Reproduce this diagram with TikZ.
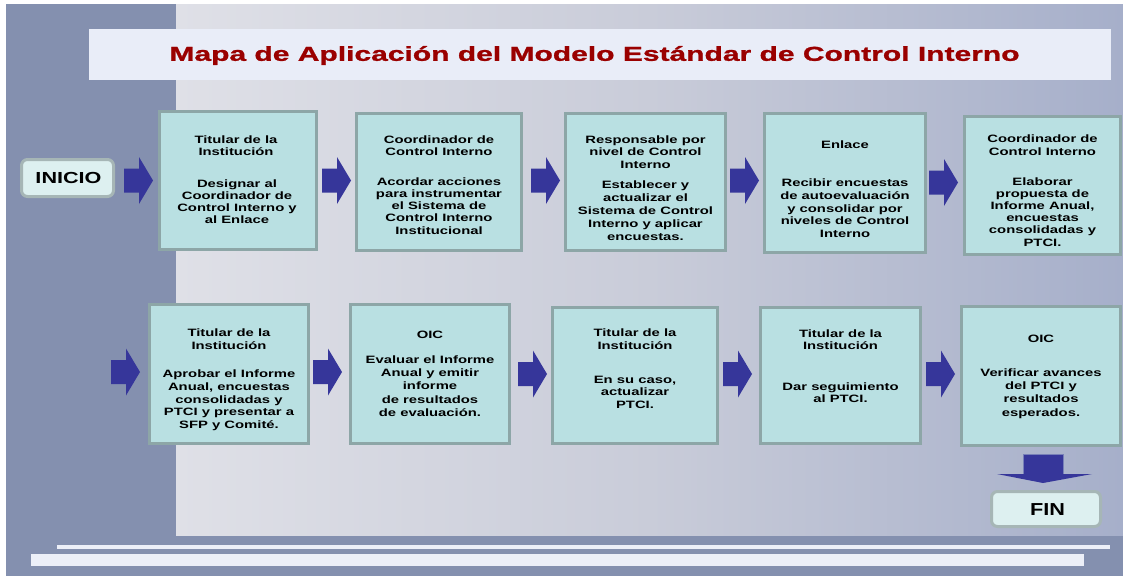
\documentclass[tikz,border=0pt]{standalone}
\usepackage{fontspec}
\newfontfamily\boxfont{Liberation Sans}[FakeStretch=1.39]
\newfontfamily\titlefont{Liberation Sans}[FakeStretch=1.49,FakeBold=1.2]
\newfontfamily\inifont{Liberation Sans}[FakeStretch=1.35]
\newfontfamily\finfont{Liberation Sans}[FakeStretch=1.25]
\definecolor{band}{HTML}{8490AF}
\definecolor{panelL}{HTML}{DFE0E7}
\definecolor{panelM}{HTML}{C9CCD9}
\definecolor{panelR}{HTML}{A6AFCA}
\definecolor{titlebar}{HTML}{E9EDF8}
\definecolor{titlered}{HTML}{9A0000}
\definecolor{boxfill}{HTML}{B9E0E2}
\definecolor{boxline}{HTML}{8DA6A7}
\definecolor{arrowc}{HTML}{36369A}
\definecolor{arrowedge}{HTML}{7880B8}
\definecolor{endfill}{HTML}{DDF0F0}
\definecolor{endline}{HTML}{A6B6B6}
\definecolor{whitebar}{HTML}{ECEFF8}
\tikzset{
  stepbox/.style={draw=boxline, fill=boxfill, line width=2.25pt, inner sep=0pt},
  endbox/.style={draw=endline, fill=endfill, line width=2.25pt, inner sep=0pt, rounded corners=4.5pt},
  txt/.style={align=center, inner sep=0pt, anchor=base, text=black},
  f/.style={font=\boxfont\bfseries\fontsize{8}{#1}\selectfont},
  rarrow/.pic={\fill[arrowc] (0,-12)--(15,-12)--(15,-23.5)--(29,0)--(15,23.5)--(15,12)--(0,12)--cycle;}
}
\begin{document}
\begin{tikzpicture}[x=0.75pt,y=-0.75pt]
\useasboundingbox (0,0) rectangle (1123,576);
% background
\fill[white] (0,0) rectangle (1123,576);
\fill[band] (6,4) rectangle (1123,576);
\shade[left color=panelL, right color=panelR, middle color=panelM] (176,4) rectangle (1123,535);
\fill[whitebar] (57,545) rectangle (1110,549);
\fill[whitebar] (31,554) rectangle (1084,566);
% title
\fill[titlebar] (89,29) rectangle (1111,80);
\node[inner sep=0pt, text=titlered, font=\titlefont\bfseries\fontsize{15.1}{18}\selectfont] (title) at (594.5,55.5) {Mapa de Aplicación del Modelo Estándar de Control Interno};
% start / end
\node[endbox, minimum width=69pt, minimum height=27.75pt] (inicio) at (67.5,178) {};
\node[inner sep=0pt, font=\inifont\bfseries\fontsize{12}{14}\selectfont] (iniciot) at (68.5,178) {INICIO};
\node[endbox, minimum width=81.75pt, minimum height=26.25pt] (fin) at (1046,509) {};
\node[inner sep=0pt, font=\finfont\bfseries\fontsize{13}{15}\selectfont] (fint) at (1047.5,510) {FIN};
% boxes row 1
\node[stepbox, minimum width=117.75pt, minimum height=103.5pt] (b1) at (238,180.5) {};
\node[stepbox, minimum width=123.75pt, minimum height=102.75pt] (b2) at (439,182) {};
\node[stepbox, minimum width=120pt, minimum height=102.75pt] (b3) at (645.5,182) {};
\node[stepbox, minimum width=120.75pt, minimum height=104.25pt] (b4) at (845,183) {};
\node[stepbox, minimum width=117pt, minimum height=103.5pt] (b5) at (1042.5,185.5) {};
% boxes row 2
\node[stepbox, minimum width=119.25pt, minimum height=104.25pt] (b6) at (229,374) {};
\node[stepbox, minimum width=119.25pt, minimum height=104.25pt] (b7) at (430,374) {};
\node[stepbox, minimum width=123.75pt, minimum height=102pt] (b8) at (635,375.5) {};
\node[stepbox, minimum width=120pt, minimum height=102pt] (b9) at (840.5,375.5) {};
\node[stepbox, minimum width=119.25pt, minimum height=104.25pt] (b10) at (1041,376) {};
% texts row 1 (anchor = baseline of last line)
\node[txt, f=9.2pt] (h1) at (236,155.3) {Titular de la\\Institución};
\node[txt, f=9.2pt] (t1) at (237,223.8) {Designar al\\Coordinador de\\Control Interno y\\al Enlace};
\node[txt, f=9.2pt] (h2) at (439,155.3) {Coordinador de\\Control Interno};
\node[txt, f=9.2pt] (t2) at (439,234.1) {Acordar acciones\\para instrumentar\\el Sistema de\\Control Interno\\Institucional};
\node[txt, f=9.4pt] (h3) at (645.5,168.1) {Responsable por\\nivel de Control\\Interno};
\node[txt, f=9.75pt] (t3) at (645.5,240) {Establecer y\\actualizar el\\Sistema de Control\\Interno y aplicar\\encuestas.};
\node[txt, f=9.4pt] (h4) at (845,148) {Enlace};
\node[txt, f=9.4pt] (t4) at (845,237.1) {Recibir encuestas\\de autoevaluación\\y consolidar por\\niveles de Control\\Interno};
\node[txt, f=9.1pt] (h5) at (1042.5,155.1) {Coordinador de\\Control Interno};
\node[txt, f=9.15pt] (t5) at (1042.5,246) {Elaborar\\propuesta de\\Informe Anual,\\encuestas\\consolidadas y\\PTCI.};
% texts row 2
\node[txt, f=9.4pt] (h6) at (229,349.5) {Titular de la\\Institución};
\node[txt, f=9.4pt] (t6) at (229,428.1) {Aprobar el Informe\\Anual, encuestas\\consolidadas y\\PTCI y presentar a\\SFP y Comité.};
\node[txt, f=9.4pt] (h7) at (430,338) {OIC};
\node[txt, f=10.1pt] (t7) at (430,416.9) {Evaluar el Informe\\Anual y emitir\\informe\\de resultados\\de evaluación.};
\node[txt, f=9.4pt] (h8) at (635,349.5) {Titular de la\\Institución};
\node[txt, f=9.4pt] (t8) at (635,408.1) {En su caso,\\actualizar\\PTCI.};
\node[txt, f=9.2pt] (h9) at (840.5,349.3) {Titular de la\\Institución};
\node[txt, f=9pt] (t9) at (840.5,402) {Dar seguimiento\\al PTCI.};
\node[txt, f=9.4pt] (h10) at (1041,342) {OIC};
\node[txt, f=10pt] (t10) at (1041,416) {Verificar avances\\del PTCI y\\resultados\\esperados.};
% arrows row 1
\pic (a1) at (124,180.5) {rarrow};
\pic (a2) at (322,180.5) {rarrow};
\pic (a3) at (531,180.5) {rarrow};
\pic (a4) at (730,180.5) {rarrow};
\pic (a5) at (929,182.5) {rarrow};
% arrows row 2
\pic (a6) at (111,372) {rarrow};
\pic (a7) at (313,372) {rarrow};
\pic (a8) at (518,374) {rarrow};
\pic (a9) at (723,374) {rarrow};
\pic (a10) at (926,374) {rarrow};
% down arrow to FIN
\filldraw[fill=arrowc, draw=arrowedge, line width=0.75pt] (1023,454) rectangle (1063,475);
\fill[arrowc] (997,474) -- (1092,474) -- (1043,483) -- cycle;
\end{tikzpicture}
\end{document}
